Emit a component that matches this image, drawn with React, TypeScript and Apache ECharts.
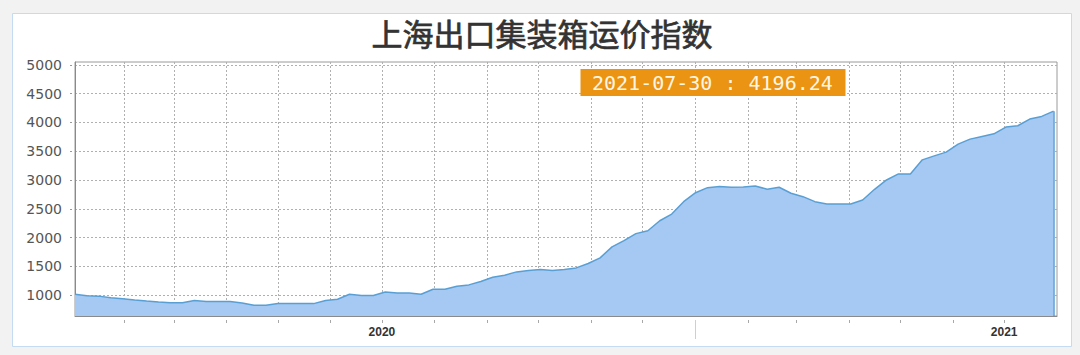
import React, { useEffect, useRef } from 'react';
import * as echarts from 'echarts';

const TITLE = '上海出口集装箱运价指数';
const START_DATE = '2020-01-03';
const AXIS_END_DATE = '2021-08-01';
const WEEK_STEP_DAYS = 7;
const LATEST_DATE = '2021-07-30';

// Weekly index values (first Friday 2020-01-03, last 2021-07-30)
const VALUES = [
  1017, 993, 985, 958, 938, 918, 900, 885, 872, 872,
  908, 890, 890, 890, 866, 826, 826, 855, 855, 855,
  855, 908, 930, 1017, 995, 995, 1057, 1040, 1040, 1017,
  1104, 1104, 1157, 1180, 1239, 1313, 1348, 1406, 1430, 1448,
  1430, 1448, 1475, 1552, 1650, 1841, 1950, 2070, 2120, 2294,
  2410, 2625, 2781, 2868, 2890, 2875, 2880, 2898, 2840, 2875,
  2771, 2712, 2625, 2585, 2585, 2585, 2654, 2840, 3002, 3107,
  3107, 3351, 3420, 3485, 3624, 3711, 3757, 3803, 3920, 3943,
  4059, 4105, 4196.24,
];

const MONTH_TICKS = [
  '2020-02-01', '2020-03-01', '2020-04-01', '2020-05-01', '2020-06-01', '2020-07-01',
  '2020-08-01', '2020-09-01', '2020-10-01', '2020-11-01', '2020-12-01', '2021-01-01',
  '2021-02-01', '2021-03-01', '2021-04-01', '2021-05-01', '2021-06-01', '2021-07-01',
];
const YEAR_LABEL_TICKS = ['2020-07-01', '2021-07-01'];
const YEAR_BOUNDARY_TICKS = ['2021-01-01'];
const Y_TICKS = [1000, 1500, 2000, 2500, 3000, 3500, 4000, 4500, 5000];
const Y_MIN = 640;
const Y_MAX = 5050;

function toTime(s: string, addDays = 0): number {
  const [y, m, d] = s.split('-').map(Number);
  return new Date(y, m - 1, d + addDays).getTime();
}

export default function App() {
  const ref = useRef<HTMLDivElement>(null);

  useEffect(() => {
    if (!ref.current) return;
    const chart = echarts.init(ref.current, undefined, { renderer: 'svg' });
    const data = VALUES.map((v, i) => [toTime(START_DATE, i * WEEK_STEP_DAYS), v]);
    const last = data[data.length - 1];
    const xMin = toTime(START_DATE);
    const xMax = toTime(AXIS_END_DATE);
    const monthTicks = MONTH_TICKS.map((s) => toTime(s));
    const yearLabels = YEAR_LABEL_TICKS.map((s) => toTime(s));
    const yearBoundary = YEAR_BOUNDARY_TICKS.map((s) => toTime(s));
    const gridLine = { show: true, lineStyle: { color: '#b0b0b0', width: 1, type: [2, 2] as any } };
    const latestText = `${LATEST_DATE} : ${VALUES[VALUES.length - 1].toFixed(2)}`;

    chart.setOption({
      animation: false,
      backgroundColor: '#f2f2f2',
      grid: {
        left: 75, right: 23, top: 62, bottom: 39,
        show: true, backgroundColor: '#ffffff', borderColor: '#9a9a9a', borderWidth: 1,
      },
      xAxis: [
        {
          type: 'value', min: xMin, max: xMax, scale: true, position: 'bottom',
          axisLine: { show: true, lineStyle: { color: '#8a8a8a', width: 1 } },
          axisTick: { show: false, customValues: monthTicks },
          axisLabel: {
            customValues: yearLabels,
            formatter: (v: number) => String(new Date(v).getFullYear()),
            color: '#333', fontSize: 12, fontWeight: 'bold', fontFamily: 'Liberation Sans', margin: 10,
          },
          splitLine: gridLine,
        },
        {
          type: 'value', min: xMin, max: xMax, scale: true, position: 'bottom', offset: 4,
          axisLine: { show: false },
          axisTick: { show: true, length: 3, customValues: monthTicks, lineStyle: { color: '#a8a8a8' } },
          axisLabel: { show: false },
          splitLine: { show: false },
        },
        {
          type: 'value', min: xMin, max: xMax, scale: true, position: 'bottom', offset: 4,
          axisLine: { show: false },
          axisTick: { show: true, length: 19, customValues: yearBoundary, lineStyle: { color: '#cfcfcf' } },
          axisLabel: { show: false },
          splitLine: { show: false },
        },
      ],
      yAxis: [
        {
          type: 'value', min: Y_MIN, max: Y_MAX, position: 'left',
          axisLine: { show: true, lineStyle: { color: '#8a8a8a', width: 1 } },
          axisTick: { show: false, customValues: Y_TICKS },
          axisLabel: {
            customValues: Y_TICKS, formatter: (v: number) => String(v),
            color: '#555', fontSize: 14, fontFamily: 'DejaVu Sans', margin: 13,
          },
          splitLine: gridLine,
        },
        {
          type: 'value', min: Y_MIN, max: Y_MAX, position: 'left', offset: 3,
          axisLine: { show: false },
          axisTick: { show: true, length: 2, customValues: Y_TICKS, lineStyle: { color: '#999' } },
          axisLabel: { show: false },
          splitLine: { show: false },
        },
      ],
      series: [
        {
          type: 'line', xAxisIndex: 0, yAxisIndex: 0, data,
          symbol: 'none', smooth: false,
          lineStyle: { color: '#5a9fd4', width: 1.5 },
          areaStyle: { color: '#a5c9f3', opacity: 1 },
          markLine: {
            silent: true, symbol: 'none', label: { show: false },
            lineStyle: { color: '#5a9fd4', width: 1.5, type: 'solid' },
            data: [[{ coord: [last[0], Y_MIN] }, { coord: [last[0], last[1]] }]],
          },
        },
      ],
      graphic: [
        {
          type: 'rect', z: -1, silent: true,
          shape: { x: 12.5, y: 13.5, width: 1059, height: 333 },
          style: { fill: '#ffffff', stroke: '#c4dbf4', lineWidth: 1 },
        },
        {
          type: 'text', x: 542, y: 32, z: 10,
          style: {
            text: TITLE, fill: '#333333', font: 'normal 31px "Noto Sans CJK SC"',
            textAlign: 'center', textVerticalAlign: 'middle',
            stroke: '#333333', lineWidth: 0.7,
          },
        },
        {
          type: 'rect', z: 10,
          shape: { x: 580.5, y: 69, width: 265, height: 27 },
          style: { fill: '#eb9312' },
        },
        {
          type: 'text', x: 592, y: 83, z: 11,
          style: {
            text: latestText, fill: '#fff6e2', font: '20px "DejaVu Sans Mono"',
            textAlign: 'left', textVerticalAlign: 'middle',
          },
        },
      ],
    });
    return () => chart.dispose();
  }, []);

  return (
    <div
      ref={ref}
      style={{ position: 'fixed', left: 0, top: 0, width: 1080, height: 355 }}
    />
  );
}
